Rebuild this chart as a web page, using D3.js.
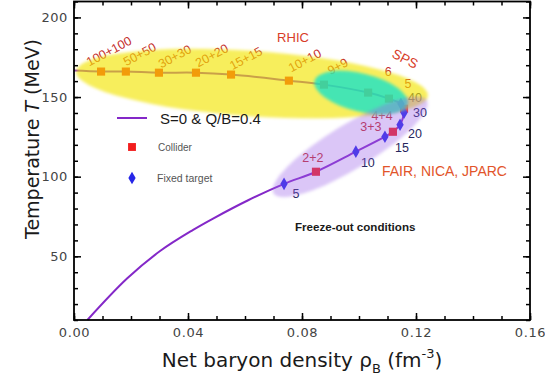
<!DOCTYPE html>
<html>
<head>
<meta charset="utf-8">
<script src="https://cdn.jsdelivr.net/npm/d3@7"></script>
<style>
  body { margin: 0; background: #fff; }
  svg { display: block; }
</style>
</head>
<body>
<div id="chart"></div>
<script>
// freeze-out curve, S=0 & Q/B=0.4 (rho_B in fm^-3, T in MeV)
var curveRho = [0.0047, 0.0186, 0.0302, 0.0418, 0.0488, 0.0611, 0.0737, 0.0849, 0.0989, 0.1091, 0.1119,
                0.1144, 0.1158, 0.1158, 0.1147, 0.1105, 0.1032, 0.0877, 0.0754, 0.0551, 0.0428, 0.0298, 0.0182, 0.0095, 0.0];
var curveT   = [10, 36.0, 53.3, 66.6, 73.7, 85.2, 95.5, 103.1, 115.7, 125.1, 128.2,
                132.6, 140.2, 142.7, 145.8, 149.0, 152.8, 157.8, 160.3, 164.1, 165.3, 165.3, 166.0, 166.0, 166.6];

// collider points (squares)
var colliderLabel = ["2+2", "3+3", "4+4", "5", "6", "9+9", "10+10", "15+15", "20+20", "30+30", "50+50", "100+100"];
var colliderRho   = [0.0849, 0.1119, 0.1158, 0.1105, 0.1032, 0.0877, 0.0754, 0.0551, 0.0428, 0.0298, 0.0182, 0.0095];
var colliderT     = [103.1, 128.2, 142.7, 149.0, 152.8, 157.8, 160.3, 164.1, 165.3, 165.3, 166.0, 166.0];

// fixed target points (diamonds)
var fixedLabel = ["5", "10", "15", "20", "30", "40"];
var fixedRho   = [0.0737, 0.0989, 0.1091, 0.1144, 0.1158, 0.1147];
var fixedT     = [95.5, 115.7, 125.1, 132.6, 140.2, 145.8];

// shaded regions : two ends (rho,T) + half width in MeV
var regionName = ["RHIC", "SPS", "FAIR"];
var regionRho1 = [0.0007, 0.0844, 0.0700];
var regionT1   = [166.0, 160.1, 89.5];
var regionRho2 = [0.1242, 0.1171, 0.1238];
var regionT2   = [150.9, 145.5, 148.0];
var regionHalf = [20.5, 12.0, 14.0];

var xTicks = [0, 0.04, 0.08, 0.12, 0.16];
var yTicks = [50, 100, 150, 200];

var width = 545, height = 386;
var svg = d3.select("#chart").append("svg")
	.attr("width", width)
	.attr("height", height)
	.style("font-family", "'Liberation Sans', Arial, sans-serif");

var x = d3.scaleLinear().domain([0, 0.16]).range([74, 530]);
var y = d3.scaleLinear().domain([10, 210]).range([320, 1.5]);

var defs = svg.append("defs");
defs.append("filter").attr("id", "soft")
	.append("feGaussianBlur").attr("stdDeviation", 1.4);

// the curve
var line = d3.line()
	.x(function(d) { return x(d[0]); })
	.y(function(d) { return y(d[1]); })
	.curve(d3.curveCatmullRom);

svg.append("path")
	.datum(d3.zip(curveRho, curveT))
	.attr("d", line)
	.attr("fill", "none")
	.attr("stroke", "#8428c8")
	.attr("stroke-width", 2);

// markers
svg.selectAll(".coll").data(d3.range(colliderRho.length)).enter()
	.append("path")
	.attr("class", "coll")
	.attr("d", d3.symbol(d3.symbolSquare, 66))
	.attr("transform", function(i) { return "translate(" + x(colliderRho[i]) + "," + y(colliderT[i]) + ")"; })
	.attr("fill", "#f21d1d");

svg.selectAll(".fix").data(d3.range(fixedRho.length)).enter()
	.append("path")
	.attr("class", "fix")
	.attr("d", d3.symbol(d3.symbolDiamond, 46))
	.attr("transform", function(i) { return "translate(" + x(fixedRho[i]) + "," + y(fixedT[i]) + ")"; })
	.attr("fill", "#2626e8");

// label offsets (pixels) and rotation for each collider label
var collOff = {
	"2+2": [-3, -14, 0], "3+3": [-22, -5, 0], "4+4": [-22, 7, 0],
	"5": [19, -15, 0], "6": [20, -21, 0], "9+9": [14, -18, -28],
	"10+10": [16, -20, -28], "15+15": [15, -16, -28], "20+20": [16, -17, -28],
	"30+30": [16, -16, -28], "50+50": [14, -17, -28], "100+100": [8, -20, -28]
};
svg.selectAll(".clab").data(d3.range(colliderLabel.length)).enter()
	.append("text")
	.attr("class", "clab")
	.attr("transform", function(i) {
		var o = collOff[colliderLabel[i]];
		return "translate(" + (x(colliderRho[i]) + o[0]) + "," + (y(colliderT[i]) + o[1]) + ") rotate(" + o[2] + ")";
	})
	.attr("text-anchor", "middle")
	.attr("dominant-baseline", "central")
	.attr("font-size", 12.5)
	.attr("fill", "#c42a2a")
	.text(function(i) { return colliderLabel[i]; });

var fixOff = [[12, 10], [12, 11], [17, 11], [15, 9], [16, 0], [14, -6]];
svg.selectAll(".flab").data(d3.range(fixedLabel.length)).enter()
	.append("text")
	.attr("class", "flab")
	.attr("x", function(i) { return x(fixedRho[i]) + fixOff[i][0]; })
	.attr("y", function(i) { return y(fixedT[i]) + fixOff[i][1]; })
	.attr("text-anchor", "middle")
	.attr("dominant-baseline", "central")
	.attr("font-size", 12.5)
	.attr("fill", "#26265e")
	.text(function(i) { return fixedLabel[i]; });

// shaded ellipses on top, semi transparent
var regionFill = ["#f2e400", "#00e2d4", "#9a60ea"];
var regionOpacity = [0.64, 0.72, 0.36];
svg.selectAll(".reg").data(d3.range(regionName.length)).enter()
	.append("ellipse")
	.attr("class", "reg")
	.each(function(i) {
		var x1 = x(regionRho1[i]), y1 = y(regionT1[i]);
		var x2 = x(regionRho2[i]), y2 = y(regionT2[i]);
		var a = Math.atan2(y2 - y1, x2 - x1) * 180 / Math.PI;
		var rx = Math.hypot(x2 - x1, y2 - y1) / 2;
		var ry = Math.abs(y(0) - y(regionHalf[i]));
		d3.select(this)
			.attr("rx", rx).attr("ry", ry)
			.attr("transform", "translate(" + (x1 + x2) / 2 + "," + (y1 + y2) / 2 + ") rotate(" + a + ")");
	})
	.attr("fill", function(i) { return regionFill[i]; })
	.attr("fill-opacity", function(i) { return regionOpacity[i]; })
	.attr("filter", "url(#soft)");

// facility names
svg.append("text").attr("x", 293).attr("y", 42).attr("text-anchor", "middle")
	.attr("font-size", 13).attr("fill", "#d83c28").text("RHIC");
svg.append("text").attr("transform", "translate(403,63) rotate(27)").attr("text-anchor", "middle")
	.attr("font-size", 13.5).attr("fill", "#d83c28").text("SPS");
svg.append("text").attr("x", 382).attr("y", 176)
	.attr("font-size", 14).attr("fill", "#e2542a").text("FAIR, NICA, JPARC");
svg.append("text").attr("x", 295).attr("y", 231)
	.attr("font-size", 11.6).attr("font-weight", "bold").attr("fill", "#1a1a1a")
	.text("Freeze-out conditions");

// legend
svg.append("line").attr("x1", 117).attr("x2", 147).attr("y1", 118).attr("y2", 118)
	.attr("stroke", "#8428c8").attr("stroke-width", 2);
svg.append("text").attr("x", 160).attr("y", 118).attr("dominant-baseline", "central")
	.attr("font-size", 15).attr("fill", "#1a1a1a").text("S=0 & Q/B=0.4");
svg.append("path").attr("d", d3.symbol(d3.symbolSquare, 62)).attr("transform", "translate(132,147)")
	.attr("fill", "#f21d1d");
svg.append("text").attr("x", 158).attr("y", 147).attr("dominant-baseline", "central")
	.attr("font-size", 10).attr("fill", "#555").text("Collider");
svg.append("path").attr("d", d3.symbol(d3.symbolDiamond, 46)).attr("transform", "translate(132,178)")
	.attr("fill", "#2626e8");
svg.append("text").attr("x", 157).attr("y", 178).attr("dominant-baseline", "central")
	.attr("font-size", 10.5).attr("fill", "#555").text("Fixed target");

// axes, ticks pointing inward on all four sides
var xMinor = d3.range(0, 0.1601, 0.01);
var yMinor = d3.range(10, 210.1, 10);
function styleAxis(g) {
	g.selectAll(".domain").remove();
	g.selectAll("line").attr("stroke", "#000").attr("stroke-width", 1.5);
	g.selectAll("text").attr("fill", "#444").attr("font-size", 13)
		.attr("font-family", "'DejaVu Sans', sans-serif").attr("letter-spacing", 0.6);
}
svg.append("g").attr("transform", "translate(0,320)")
	.call(d3.axisBottom(x).tickValues(xMinor).tickSize(-4).tickFormat("")).call(styleAxis);
svg.append("g").attr("transform", "translate(0,320)")
	.call(d3.axisBottom(x).tickValues(xTicks).tickSize(-7).tickPadding(8).tickFormat(d3.format(".2f"))).call(styleAxis);
svg.append("g").attr("transform", "translate(0,1.5)")
	.call(d3.axisTop(x).tickValues(xMinor).tickSize(-4).tickFormat("")).call(styleAxis);
svg.append("g").attr("transform", "translate(0,1.5)")
	.call(d3.axisTop(x).tickValues(xTicks).tickSize(-7).tickFormat("")).call(styleAxis);
svg.append("g").attr("transform", "translate(74,0)")
	.call(d3.axisLeft(y).tickValues(yMinor).tickSize(-4).tickFormat("")).call(styleAxis);
svg.append("g").attr("transform", "translate(74,0)")
	.call(d3.axisLeft(y).tickValues(yTicks).tickSize(-7).tickPadding(6).tickFormat(d3.format("d"))).call(styleAxis);
svg.append("g").attr("transform", "translate(530,0)")
	.call(d3.axisRight(y).tickValues(yMinor).tickSize(-4).tickFormat("")).call(styleAxis);
svg.append("g").attr("transform", "translate(530,0)")
	.call(d3.axisRight(y).tickValues(yTicks).tickSize(-7).tickFormat("")).call(styleAxis);

svg.append("rect").attr("x", 74).attr("y", 1.5).attr("width", 456).attr("height", 318.5)
	.attr("fill", "none").attr("stroke", "#000").attr("stroke-width", 1.8);

// axis titles
var xt = svg.append("text").attr("x", 302).attr("y", 367).attr("text-anchor", "middle")
	.attr("font-family", "'DejaVu Sans', sans-serif").attr("font-size", 20).attr("fill", "#1a1a1a");
xt.append("tspan").text("Net baryon density \u03C1");
xt.append("tspan").attr("font-size", 13).attr("dy", 6).text("B");
xt.append("tspan").attr("dy", -6).text(" (fm");
xt.append("tspan").attr("font-size", 13).attr("dy", -9).text("-3");
xt.append("tspan").attr("dy", 9).text(")");

var yt = svg.append("text").attr("transform", "translate(39,139) rotate(-90)").attr("text-anchor", "middle")
	.attr("font-family", "'DejaVu Sans', sans-serif").attr("font-size", 19).attr("fill", "#1a1a1a");
yt.append("tspan").text("Temperature ");
yt.append("tspan").attr("font-style", "italic").text("T");
yt.append("tspan").text(" (MeV)");
</script>
</body>
</html>
